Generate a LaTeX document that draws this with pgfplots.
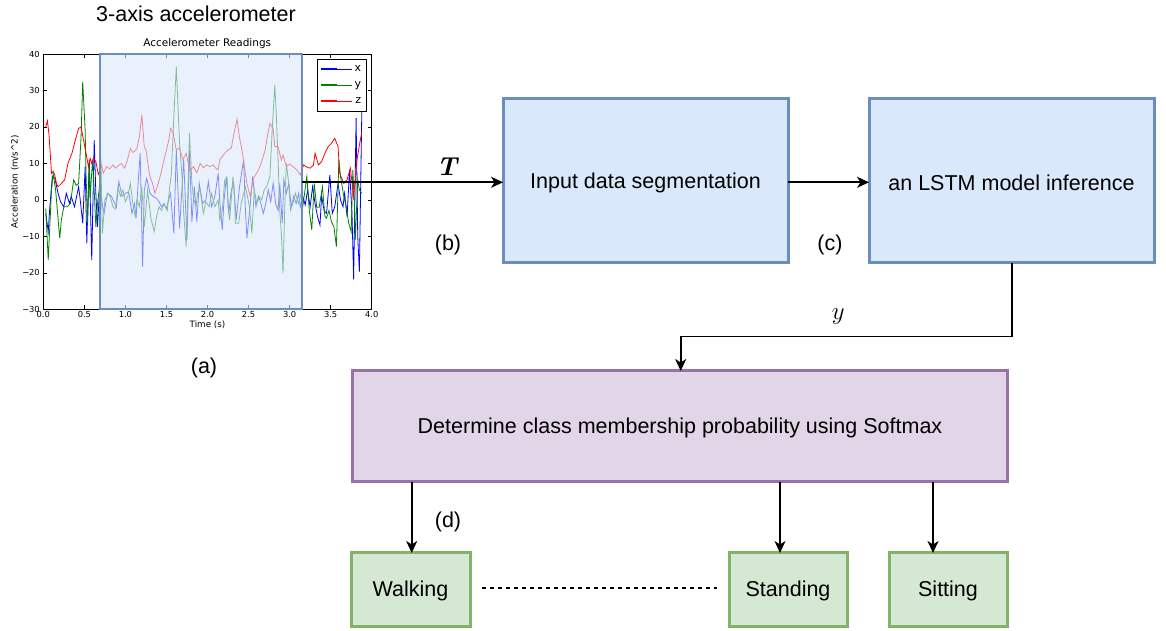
\documentclass[border=0pt]{standalone}
\usepackage{fontspec}
\setsansfont{Liberation Sans}
\newfontfamily\dejavu{DejaVu Sans}
\usepackage{pgfplots}
\pgfplotsset{compat=1.18}
\usetikzlibrary{arrows.meta}
\definecolor{bfill}{HTML}{DAE8FC}
\definecolor{bdraw}{HTML}{6C8EBF}
\definecolor{pfill}{HTML}{E1D5E7}
\definecolor{pdraw}{HTML}{9673A6}
\definecolor{gfill}{HTML}{D5E8D4}
\definecolor{gdraw}{HTML}{82B366}
\definecolor{mgreen}{RGB}{0,128,0}
\begin{document}
\begin{tikzpicture}[x=1pt,y=1pt]
\useasboundingbox (0,0) rectangle (1166,631);
\begin{axis}[
  scale only axis, width=328.4pt, height=255.3pt,
  anchor=south west, at={(43.3pt,321.7pt)},
  xmin=0, xmax=4, ymin=-30, ymax=40,
  xtick={0,0.5,1,1.5,2,2.5,3,3.5,4},
  xticklabels={0.0,0.5,1.0,1.5,2.0,2.5,3.0,3.5,4.0},
  ytick={-30,-20,-10,0,10,20,30,40},
  yticklabels={−30,−20,−10,0,10,20,30,40},
  tick align=inside, tick pos=both, major tick length=4pt,
  tick style={black, line width=0.6pt},
  ticklabel style={font=\dejavu\fontsize{8.3}{9}\selectfont},
  xticklabel style={yshift=1pt},
  axis line style={black, line width=0.7pt},
  legend style={at={(0.984,0.982)}, anchor=north east, draw=black, line width=0.8pt,
    font=\dejavu\fontsize{11}{11}\selectfont, inner sep=3pt, row sep=2pt,
    nodes={text height=7.5pt, text depth=2.5pt}},
  legend cell align=right,
  legend image code/.code={\draw[#1, line width=1pt] (0pt,0pt) -- (16pt,0pt); \path (0pt,0pt) -- (31pt,0pt);},
]
\addplot[blue, line width=0.8pt] coordinates {
(0.03,-3.7) (0.06,-8.7) (0.08,-1.9) (0.11,6.4) (0.14,6.0) (0.18,1.8) (0.21,-0.5) (0.25,-1.9)
(0.28,1.8) (0.32,-1.0) (0.34,1.0) (0.38,-1.9) (0.43,3.6) (0.45,0.0) (0.48,-6.4) (0.51,9.1)
(0.53,-11.9) (0.56,11.0) (0.59,-16.5) (0.62,16.4) (0.64,1.8) (0.66,-7.4) (0.69,4.5) (0.71,0.0)
(0.74,-3.7) (0.78,1.8) (0.83,1.0) (0.87,-1.0) (0.89,-2.0) (0.92,5.0) (0.96,1.0) (1.00,1.8)
(1.04,2.2) (1.08,-3.7) (1.11,-1.0) (1.13,-5.0) (1.16,6.4) (1.18,12.8) (1.21,-18.3) (1.23,2.7)
(1.26,5.9) (1.30,1.8) (1.34,0.9) (1.38,0.4) (1.41,-0.5) (1.44,-1.9) (1.47,-1.0) (1.50,-2.5)
(1.52,-0.5) (1.55,1.8) (1.59,-9.2) (1.62,13.7) (1.66,-7.8) (1.69,3.6) (1.71,11.0) (1.75,-11.0)
(1.78,13.7) (1.81,-6.0) (1.84,3.6) (1.87,-6.0) (1.90,4.5) (1.94,-1.0) (1.98,0.0) (2.01,5.0)
(2.05,-1.9) (2.09,1.0) (2.13,7.3) (2.15,-0.5) (2.18,-8.2) (2.20,-0.5) (2.23,6.4) (2.26,-3.7)
(2.29,2.7) (2.32,4.5) (2.35,-5.5) (2.39,3.6) (2.44,11.0) (2.46,-1.9) (2.48,-10.5) (2.53,1.0)
(2.55,6.4) (2.59,-1.9) (2.62,1.0) (2.65,-1.0) (2.68,-3.7) (2.71,-1.0) (2.74,2.7) (2.77,-0.5)
(2.80,4.5) (2.83,-1.0) (2.86,-2.9) (2.88,4.5) (2.91,-6.4) (2.93,5.5) (2.96,1.8) (2.99,4.5)
(3.02,-1.9) (3.05,1.0) (3.08,-1.0) (3.11,1.8) (3.13,-1.9) (3.16,1.0) (3.19,-1.4) (3.22,2.7)
(3.25,-1.9) (3.28,3.6) (3.31,-1.0) (3.34,-4.6) (3.37,-6.9) (3.39,1.0) (3.42,-2.9) (3.45,-3.7)
(3.49,6.8) (3.52,-3.7) (3.55,-1.9) (3.59,4.5) (3.62,0.0) (3.65,-1.9) (3.67,1.8) (3.70,-4.6)
(3.73,8.2) (3.76,-3.7) (3.78,-21.8) (3.81,22.4) (3.83,-10.1) (3.85,-19.7) (3.88,25.1)
};
\addplot[mgreen, line width=0.8pt] coordinates {
(0.03,-2.3) (0.06,-16.5) (0.10,2.7) (0.12,7.3) (0.15,2.7) (0.20,-10.5) (0.22,-5.5) (0.25,-1.9)
(0.29,-1.9) (0.33,-1.0) (0.37,5.5) (0.40,4.0) (0.43,4.5) (0.46,17.3) (0.48,32.4) (0.51,19.0)
(0.52,7.3) (0.54,-6.4) (0.56,10.0) (0.57,0.5) (0.60,11.0) (0.62,2.7) (0.64,-7.4) (0.66,-1.0)
(0.68,2.7) (0.70,12.0) (0.72,-9.2) (0.75,0.0) (0.79,1.8) (0.82,0.5) (0.85,-2.0) (0.88,-2.5)
(0.91,3.6) (0.94,1.0) (0.97,2.7) (1.00,-0.5) (1.03,1.0) (1.06,4.5) (1.10,-2.5) (1.12,-4.5)
(1.14,0.0) (1.17,-1.9) (1.20,3.6) (1.23,-7.4) (1.27,2.7) (1.31,-5.0) (1.35,-8.7) (1.38,-4.6)
(1.41,-1.9) (1.44,-2.9) (1.47,-1.0) (1.51,-2.9) (1.54,3.6) (1.56,7.3) (1.59,22.8) (1.62,36.5)
(1.66,15.5) (1.69,6.4) (1.71,-3.7) (1.74,-12.8) (1.76,1.0) (1.78,18.3) (1.81,4.5) (1.83,0.5)
(1.86,-1.9) (1.88,2.0) (1.91,2.7) (1.95,-3.7) (1.98,-0.5) (2.02,-1.9) (2.05,1.8) (2.09,-1.9)
(2.13,0.0) (2.15,-5.5) (2.18,-2.9) (2.21,5.5) (2.24,6.0) (2.25,-1.9) (2.27,-5.5) (2.31,6.4)
(2.33,0.0) (2.34,-6.4) (2.38,-6.4) (2.41,-1.0) (2.46,3.6) (2.48,1.8) (2.51,-1.9) (2.53,-6.4)
(2.54,-9.2) (2.57,2.7) (2.60,-1.0) (2.63,0.9) (2.66,0.0) (2.69,2.7) (2.72,3.6) (2.76,6.4)
(2.79,20.1) (2.82,31.5) (2.84,22.4) (2.86,11.0) (2.88,-2.9) (2.90,-9.2) (2.92,-20.1) (2.94,-2.9)
(2.96,10.0) (2.99,4.5) (3.01,-2.9) (3.04,-1.0) (3.07,1.8) (3.11,-1.0) (3.14,1.8) (3.16,-1.9)
(3.21,6.4) (3.24,-2.9) (3.27,-8.2) (3.30,4.5) (3.33,-2.0) (3.36,-2.0) (3.40,3.6) (3.43,-4.5)
(3.45,-5.0) (3.48,-2.9) (3.51,-6.0) (3.54,-7.4) (3.57,-12.8) (3.60,11.0) (3.62,6.4) (3.66,1.0)
(3.69,-1.9) (3.72,-6.4) (3.75,-8.7) (3.77,8.2) (3.79,-1.9) (3.80,-11.0) (3.83,5.5) (3.85,2.7)
(3.88,1.8)
};
\addplot[red, line width=0.8pt] coordinates {
(0.03,20.0) (0.05,21.7) (0.07,17.8) (0.10,7.3) (0.12,7.8) (0.14,6.8) (0.16,4.5) (0.18,3.6)
(0.22,4.5) (0.26,5.5) (0.30,10.0) (0.35,12.8) (0.39,16.4) (0.43,19.6) (0.46,20.0) (0.49,16.4)
(0.52,12.8) (0.55,9.1) (0.57,11.4) (0.59,10.0) (0.61,11.4) (0.64,10.5) (0.67,7.0) (0.69,8.0)
(0.71,9.6) (0.73,7.3) (0.77,9.1) (0.81,8.5) (0.85,9.6) (0.88,8.7) (0.92,9.5) (0.95,10.0)
(0.99,8.7) (1.02,10.5) (1.06,14.1) (1.09,13.0) (1.12,13.5) (1.14,14.1) (1.17,17.3) (1.20,23.3)
(1.23,14.6) (1.25,13.7) (1.28,9.0) (1.30,6.4) (1.33,4.5) (1.36,1.8) (1.40,4.5) (1.43,7.0)
(1.46,10.0) (1.50,13.7) (1.53,16.5) (1.55,19.6) (1.58,18.5) (1.62,13.7) (1.66,14.2) (1.70,11.0)
(1.74,12.8) (1.77,9.5) (1.79,8.2) (1.83,9.1) (1.87,7.4) (1.91,10.0) (1.95,8.8) (1.99,9.6)
(2.03,9.1) (2.07,9.6) (2.10,8.7) (2.13,8.2) (2.15,11.0) (2.20,12.5) (2.25,13.7) (2.29,14.2)
(2.32,18.0) (2.36,22.1) (2.39,17.0) (2.42,13.7) (2.45,9.0) (2.48,4.5) (2.52,0.9) (2.56,6.0)
(2.59,7.0) (2.62,8.2) (2.66,10.5) (2.70,13.5) (2.73,17.5) (2.76,21.0) (2.80,19.5) (2.82,14.6)
(2.86,14.6) (2.90,10.9) (2.92,12.3) (2.96,9.2) (3.00,9.8) (3.05,9.0) (3.09,8.2) (3.13,6.8)
(3.17,9.6) (3.21,9.0) (3.25,8.7) (3.29,9.5) (3.31,12.8) (3.35,9.6) (3.39,10.5) (3.43,12.8)
(3.47,14.6) (3.51,15.5) (3.55,16.9) (3.59,14.6) (3.61,7.3) (3.66,4.5) (3.70,5.5) (3.74,8.7)
(3.78,0.9) (3.82,10.9) (3.85,15.0) (3.88,18.7)
};
\legend{x,y,z}
\draw[draw=bdraw, line width=2pt, fill=bfill, fill opacity=0.6] (axis cs:0.69,-30) rectangle (axis cs:3.147,40);
\end{axis}
% chart texts
\node[font=\dejavu\fontsize{10.5}{12}\selectfont] at (207.2,587.5) {Accelerometer Readings};
\node[font=\dejavu\fontsize{8.75}{10}\selectfont] at (207.5,306) {Time (s)};
\node[font=\dejavu\fontsize{8.75}{10}\selectfont, rotate=90] at (15,449.3) {Acceleration (m/s\textasciicircum 2)};
% diagram
\begin{scope}[font=\sffamily\fontsize{21.5}{25}\selectfont]
\node at (196,617) {3-axis accelerometer};
\node at (204,263) {(a)};
\node at (448,386) {(b)};
\node at (830,386) {(c)};
\node at (448,109.3) {(d)};
\draw[bdraw, fill=bfill, line width=3pt] (503,368) rectangle (788,532);
\node at (645.5,448) {Input data segmentation};
\draw[bdraw, fill=bfill, line width=3pt] (869,368) rectangle (1154,532);
\node at (1011.5,448) {an LSTM model inference};
\draw[pdraw, fill=pfill, line width=3pt] (352,149) rectangle (1007,260);
\node at (680,203) {Determine class membership probability using Softmax};
\draw[gdraw, fill=gfill, line width=3pt] (351,4) rectangle (470,78);
\node at (410.5,40) {Walking};
\draw[gdraw, fill=gfill, line width=3pt] (729,4) rectangle (847,78);
\node at (788,40) {Standing};
\draw[gdraw, fill=gfill, line width=3pt] (889,4) rectangle (1007,78);
\node at (948,40) {Sitting};
\end{scope}
\begin{scope}[line width=1.6pt, -{Stealth[length=12pt,width=11pt,inset=3.5pt]}]
\draw (302,448.7) -- (503,448.7);
\draw (788,448.7) -- (869,448.7);
\draw (1011.7,368) -- (1011.7,294.3) -- (680.7,294.3) -- (680.7,260);
\draw (411.7,149) -- (411.7,78);
\draw (780,149) -- (780,78);
\draw (933,149) -- (933,78);
\end{scope}
\draw[dash pattern=on 4.5pt off 3.5pt, line width=1.6pt] (481.7,42.7) -- (717,42.7);
\node at (446.7,464.3) {\fontsize{26}{26}\selectfont\bfseries\itshape T};
\node at (838.3,314.3) {\fontsize{26}{26}\selectfont$y$};
\end{tikzpicture}
\end{document}
